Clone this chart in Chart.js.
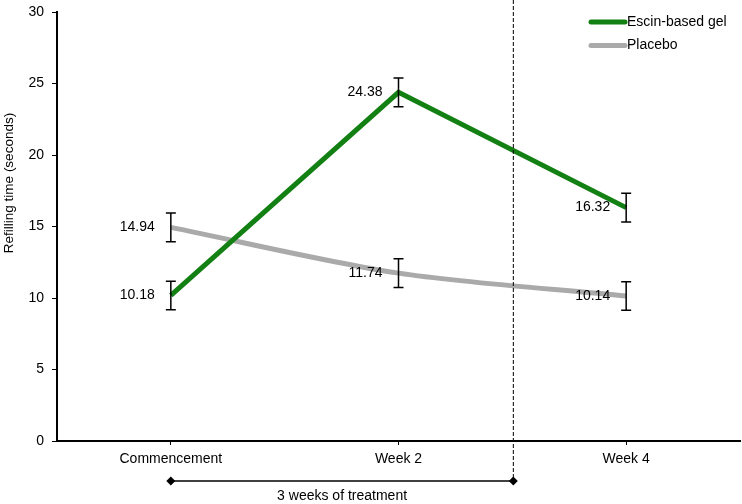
<!DOCTYPE html>
<html><head><meta charset="utf-8">
<script src="https://cdn.jsdelivr.net/npm/chart.js@4"></script>
<style>html,body{margin:0;padding:0;background:#fff}#wrap{width:742px;height:504px}</style>
</head><body><div id="wrap"><canvas id="c"></canvas></div>
<script>
// data
const labels=['Commencement','Week 2','Week 4'];
const escin=[10.18,24.38,16.32];
const escinErr=[1.0,1.0,1.0];
const placebo=[14.94,11.74,10.14];
const placeboErr=[1.0,1.0,1.0];
const yTitle='Refilling time (seconds)';
const treatLabel='3 weeks of treatment';

const F='"Liberation Sans", Arial, sans-serif';

// error bars, value labels, legend, treatment marker, y title
const extras={id:'extras',
  afterDatasetsDraw(ch){
    const c=ch.ctx,x=ch.scales.x,y=ch.scales.y;
    c.save();
    // error bars
    c.strokeStyle='#000';c.lineWidth=1.5;
    [[escin,escinErr],[placebo,placeboErr]].forEach(([v,e])=>{
      v.forEach((val,i)=>{
        const px=x.getPixelForValue(i),t=y.getPixelForValue(val+e[i]),b=y.getPixelForValue(val-e[i]);
        c.beginPath();c.moveTo(px,t);c.lineTo(px,b);
        c.moveTo(px-5,t);c.lineTo(px+5,t);c.moveTo(px-5,b);c.lineTo(px+5,b);c.stroke();
      });
    });
    // value labels
    c.fillStyle='#000';c.font='14px '+F;c.textAlign='right';c.textBaseline='middle';
    [escin,placebo].forEach(v=>v.forEach((val,i)=>{
      c.fillText(val.toFixed(2),x.getPixelForValue(i)-16,y.getPixelForValue(val));
    }));
    // dashed separator
    const sx=(x.getPixelForValue(1)+x.getPixelForValue(2))/2+1;
    const ly=481;
    c.setLineDash([4,2]);c.lineWidth=1;
    c.beginPath();c.moveTo(sx,0);c.lineTo(sx,ly);c.stroke();
    c.setLineDash([]);
    // treatment span
    const x0=x.getPixelForValue(0);
    c.lineWidth=1.5;c.beginPath();c.moveTo(x0,ly);c.lineTo(sx,ly);c.stroke();
    [x0,sx].forEach(px=>{c.beginPath();c.moveTo(px,ly-4.5);c.lineTo(px+4.5,ly);c.lineTo(px,ly+4.5);c.lineTo(px-4.5,ly);c.closePath();c.fill();});
    c.textAlign='center';c.font='14px '+F;
    c.fillText(treatLabel,(x0+sx)/2,496);
    // legend
    c.textAlign='left';c.font='14px '+F;
    ch.data.datasets.forEach((d,i)=>{
      const yy=22+i*23.5;
      c.strokeStyle=d.borderColor;c.lineWidth=5;c.lineCap='round';
      c.beginPath();c.moveTo(591,yy);c.lineTo(625,yy);c.stroke();
      c.fillStyle='#000';c.fillText(d.label,627,yy);
    });
    // y axis title
    c.translate(9,183);c.rotate(-Math.PI/2);
    c.font='13.5px '+F;c.textAlign='center';
    c.fillText(yTitle,0,0);
    c.restore();
  }
};

new Chart(document.getElementById('c'),{type:'line',
  data:{labels:labels,datasets:[
    {label:'Escin-based gel',data:escin,borderColor:'#138013',borderWidth:5,pointRadius:0,tension:0},
    {label:'Placebo',data:placebo,borderColor:'#aaaaaa',borderWidth:5,pointRadius:0,tension:0.3}
  ]},
  options:{responsive:true,maintainAspectRatio:false,animation:false,
    layout:{padding:{top:12,right:2,left:0,bottom:0}},
    plugins:{legend:{display:false},tooltip:{enabled:false}},
    scales:{
      x:{offset:true,
        grid:{offset:false,drawOnChartArea:false,color:'#000',tickLength:4},
        border:{color:'#000',width:2},
        ticks:{color:'#000',font:{size:14,family:F},padding:6,maxRotation:0},
        afterFit(s){s.height=63;}},
      y:{min:0,max:30,
        grid:{drawOnChartArea:false,color:'#000',tickLength:5},
        border:{color:'#000',width:2},
        ticks:{stepSize:5,color:'#000',font:{size:14,family:F},padding:8},
        afterFit(s){s.width=57;s.paddingTop=0;s.paddingBottom=0;}}
    }},
  plugins:[extras]
});
</script></body></html>
